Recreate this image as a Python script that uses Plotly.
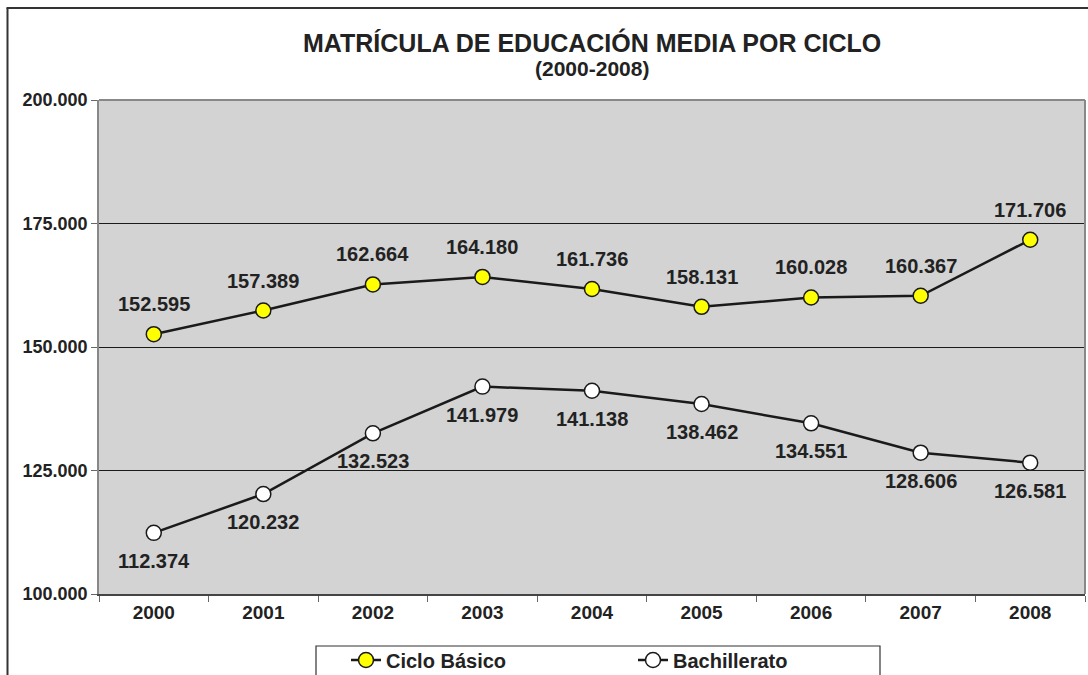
import plotly.graph_objects as go

years = ["2000", "2001", "2002", "2003", "2004", "2005", "2006", "2007", "2008"]
ciclo_basico = [152595, 157389, 162664, 164180, 161736, 158131, 160028, 160367, 171706]
bachillerato = [112374, 120232, 132523, 141979, 141138, 138462, 134551, 128606, 126581]
y_ticks = [100000, 125000, 150000, 175000, 200000]
y_tick_labels = ["100.000", "125.000", "150.000", "175.000", "200.000"]

FONT = "Liberation Sans, Arial, sans-serif"
TXT = "#222222"

def fmt(v):
    return f"{v:,}".replace(",", ".")

W, H = 1088, 675
L, R, T, B = 99, 3, 100, 81
PW, PH = W - L - R, H - T - B

def px(xp):
    return (xp - L) / PW

def py(yp):
    return (H - B - yp) / PH

fig = go.Figure()
fig.add_trace(go.Scatter(
    x=years, y=ciclo_basico, name="Ciclo Básico", mode="lines+markers",
    line=dict(color="#1a1a1a", width=2.5),
    marker=dict(size=15, color="#FFFF00", line=dict(color="#1a1a1a", width=1.5)),
))
fig.add_trace(go.Scatter(
    x=years, y=bachillerato, name="Bachillerato", mode="lines+markers",
    line=dict(color="#1a1a1a", width=2.5),
    marker=dict(size=15, color="#FFFFFF", line=dict(color="#1a1a1a", width=1.5)),
))

annotations = []
for i, v in enumerate(ciclo_basico):
    annotations.append(dict(x=i, y=v, xref="x", yref="y", text=fmt(v), showarrow=False,
                            yshift=30, font=dict(family=FONT, size=20, color=TXT, weight="bold")))
for i, v in enumerate(bachillerato):
    annotations.append(dict(x=i, y=v, xref="x", yref="y", text=fmt(v), showarrow=False,
                            yshift=-28, font=dict(family=FONT, size=20, color=TXT, weight="bold")))

annotations.append(dict(x=0.5, y=py(43), xref="paper", yref="paper", text="MATRÍCULA DE EDUCACIÓN MEDIA POR CICLO",
                        showarrow=False, xanchor="center", yanchor="middle",
                        font=dict(family=FONT, size=25, color=TXT, weight="bold")))
annotations.append(dict(x=0.5, y=py(68), xref="paper", yref="paper", text="(2000-2008)",
                        showarrow=False, xanchor="center", yanchor="middle",
                        font=dict(family=FONT, size=21, color=TXT, weight="bold")))

shapes = [
    # outer frame (left and top edges)
    dict(type="line", xref="paper", yref="paper", x0=px(7.5), x1=px(7.5), y0=py(8), y1=py(H + 20),
         line=dict(color="#333333", width=2)),
    dict(type="line", xref="paper", yref="paper", x0=px(6.5), x1=px(W + 20), y0=py(8), y1=py(8),
         line=dict(color="#333333", width=2)),
    # plot border top/right
    dict(type="line", xref="paper", yref="paper", x0=0, x1=1, y0=1, y1=1,
         line=dict(color="#888888", width=2), layer="above"),
    dict(type="line", xref="paper", yref="paper", x0=1, x1=1, y0=0, y1=1,
         line=dict(color="#888888", width=2), layer="above"),
    # legend box (bottom edge falls outside the picture)
    dict(type="rect", xref="paper", yref="paper", x0=px(316), x1=px(880), y0=py(646), y1=py(H + 30),
         line=dict(color="#333333", width=1.2), fillcolor="white", layer="below"),
]

fig.update_layout(
    width=W, height=H,
    margin=dict(l=L, r=R, t=T, b=B, autoexpand=False),
    paper_bgcolor="white",
    plot_bgcolor="#D3D3D3",
    showlegend=True,
    legend=dict(orientation="h", x=px(346), y=py(660), xanchor="left", yanchor="middle",
                bgcolor="rgba(0,0,0,0)", borderwidth=0,
                font=dict(family=FONT, size=20, color=TXT, weight="bold"),
                entrywidth=242, entrywidthmode="pixels", itemwidth=30),
    annotations=annotations,
    shapes=shapes,
    xaxis=dict(
        type="category", range=[-0.5, 8.5], tickson="boundaries",
        ticks="outside", ticklen=6, tickcolor="#666666", tickwidth=1,
        showgrid=False, showline=True, linecolor="#444444", linewidth=1.5,
        tickfont=dict(family=FONT, size=19, color=TXT, weight="bold"),
        fixedrange=True, automargin=False,
    ),
    yaxis=dict(
        range=[100000, 200000], tickvals=y_ticks, ticktext=y_tick_labels,
        ticks="outside", ticklen=6, tickcolor="#666666",
        showgrid=True, gridcolor="#1a1a1a", gridwidth=1,
        showline=True, linecolor="#888888", linewidth=1.5,
        zeroline=False,
        tickfont=dict(family=FONT, size=18, color=TXT, weight="bold"),
        fixedrange=True, automargin=False,
    ),
)

fig.write_html("out.html", config={"displayModeBar": False},
               post_script="document.body.style.margin='0';document.body.style.overflow='hidden';")
